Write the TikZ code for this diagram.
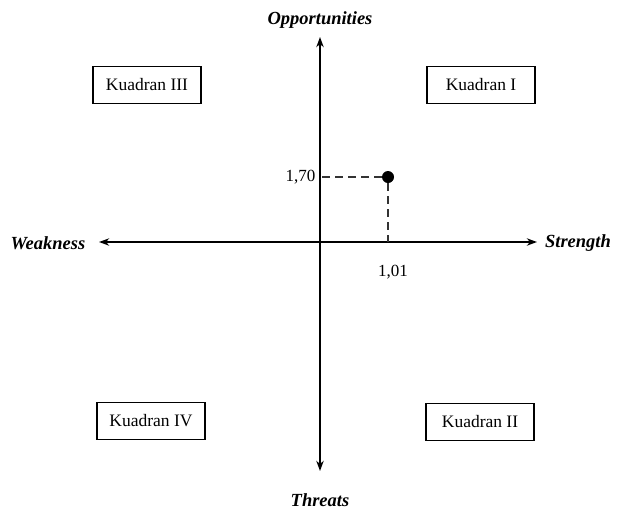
\documentclass[tikz,border=0pt]{standalone}
\usepackage{fontspec}
\setmainfont{Liberation Serif}
\usetikzlibrary{arrows.meta,positioning}
\tikzset{
  >={Stealth[length=3.6mm,width=2.6mm]},
  axis/.style ={line width=1.5pt, <->},
  kbox/.style ={draw, line width=1.1pt, minimum width=108pt, minimum height=37pt, font=\fontsize{17.5}{19}\selectfont},
  axlab/.style={font=\fontsize{18.5}{20}\selectfont\bfseries\itshape},
  val/.style  ={font=\fontsize{17}{19}\selectfont},
  guide/.style={dashed, dash pattern=on 8pt off 5pt, line width=1.4pt, black!80}
}
\begin{document}
\begin{tikzpicture}[x=1pt,y=-1pt]
\useasboundingbox (0,0) rectangle (618,512);
\coordinate (o) at (320,242);
\coordinate (top) at (320,37);
\coordinate (bot) at (320,471);
\coordinate (lft) at (99,242);
\coordinate (rgt) at (537,242);
\draw[axis] (top) -- (bot);
\draw[axis] (lft) -- (rgt);
\node[axlab] (opp) at (320,20) {Opportunities};
\node[axlab] (thr) at (320,500) {Threats};
\node[axlab] (weak) at (48,243) {Weakness};
\node[axlab] (str) at (578,243) {Strength};
\node[kbox] (k3) at (147,85) {Kuadran III};
\node[kbox] (k1) at (481,85) {Kuadran I};
\node[kbox] (k4) at (151,421) {Kuadran IV};
\node[kbox] (k2) at (480,422) {Kuadran II};
% titik posisi
\node[circle, fill, inner sep=0pt, minimum size=12pt] (pt) at (388,177) {};
\coordinate (py) at (320,177);
\coordinate (px) at (388,242);
\draw[guide] (pt) -- (py);
\draw[guide] (pt) -- (px);
\node[val, left=1pt of py] (yv) {1,70};
\node[val] (xv) at (393,272) {1,01};
\end{tikzpicture}
\end{document}
